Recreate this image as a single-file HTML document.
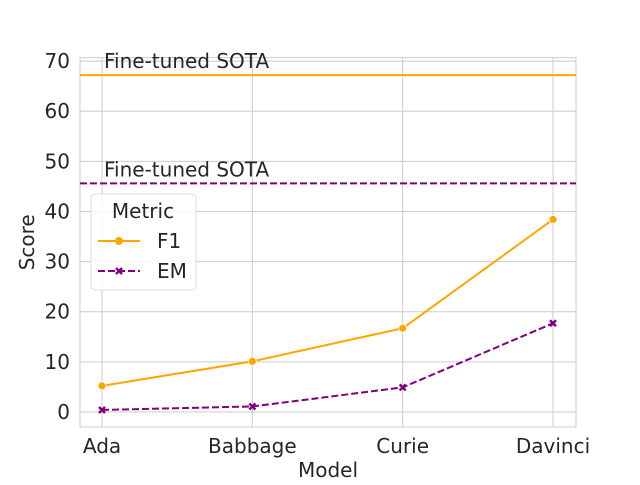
<!DOCTYPE html>
<html><head><meta charset="utf-8"><style>
body{margin:0;background:#fff;width:640px;height:480px;overflow:hidden}
svg text{font-family:"DejaVu Sans","Liberation Sans",sans-serif;fill:#262626}
</style></head><body>
<svg id="chart" width="640" height="480"></svg>
<script>
const categories=["Ada","Babbage","Curie","Davinci"];
const f1Values=[5.2,10.1,16.7,38.4];
const emValues=[0.4,1.1,4.9,17.7];
const sotaF1=67.2;
const sotaEM=45.6;
const yTicks=[0,10,20,30,40,50,60,70];
const L=80,R=576,T=57.6,B=427,ymin=-3,ymax=70.7;
const NS="http://www.w3.org/2000/svg";
const svg=document.getElementById("chart");
function xs(i){return 102+i*(553-102)/(categories.length-1);}
function ys(v){return B-(v-ymin)/(ymax-ymin)*(B-T);}
function mk(tag,attrs,parent){const e=document.createElementNS(NS,tag);for(const k in attrs)e.setAttribute(k,attrs[k]);(parent||svg).appendChild(e);return e;}
const bg=mk("rect",{x:L,y:T,width:R-L,height:B-T,fill:"#fff",stroke:"#ccc","stroke-width":1});


yTicks.forEach(v=>{
  const g=mk("line",{x1:L,x2:R,y1:ys(v),y2:ys(v),stroke:"#ccc","stroke-width":1});
  
  
  const t=mk("text",{x:L-10,y:ys(v)+7,"text-anchor":"end","font-size":20});
  t.textContent=v;
  
  
});
categories.forEach((c,i)=>{
  const g=mk("line",{x1:xs(i),x2:xs(i),y1:T,y2:B,stroke:"#ccc","stroke-width":1});
  
  
  const t=mk("text",{x:xs(i),y:453,"text-anchor":"middle","font-size":20});
  t.textContent=c;
  
  
});
const h1=mk("line",{x1:L,x2:R,y1:ys(sotaF1),y2:ys(sotaF1),stroke:"orange","stroke-width":2});


const h2=mk("line",{x1:L,x2:R,y1:ys(sotaEM),y2:ys(sotaEM),stroke:"purple","stroke-width":2,"stroke-dasharray":"7,3"});


[[sotaF1,"sota-f1-label"],[sotaEM,"sota-em-label"]].forEach(([v,n])=>{
  const t=mk("text",{x:104,y:ys(v)-7,"font-size":20});
  t.textContent="Fine-tuned SOTA";
  
  
});
const p1=mk("polyline",{points:f1Values.map((v,i)=>xs(i)+","+ys(v)).join(" "),fill:"none",stroke:"orange","stroke-width":2});


const p2=mk("polyline",{points:emValues.map((v,i)=>xs(i)+","+ys(v)).join(" "),fill:"none",stroke:"purple","stroke-width":2,"stroke-dasharray":"7,3"});


f1Values.forEach((v,i)=>{
  const c=mk("circle",{cx:xs(i),cy:ys(v),r:4,fill:"orange",stroke:"#fff","stroke-width":0.8});
  
  
});
emValues.forEach((v,i)=>{
  const x=xs(i),y=ys(v);
  const c=mk("path",{d:`M${x-3},${y-3}L${x+3},${y+3}M${x+3},${y-3}L${x-3},${y+3}`,stroke:"purple","stroke-width":2.5});
  
  
});
const yt=mk("text",{x:0,y:0,"font-size":20,"text-anchor":"middle",transform:`translate(34,${(T+B)/2}) rotate(-90)`});
yt.textContent="Score";


const xt=mk("text",{x:(L+R)/2,y:477,"font-size":20,"text-anchor":"middle"});
xt.textContent="Model";


const lg=mk("g",{});


mk("rect",{x:91,y:194,width:105,height:96,rx:4,fill:"#fff","fill-opacity":0.85,stroke:"#ddd"},lg);
const lt=mk("text",{x:143,y:218,"font-size":20,"text-anchor":"middle"},lg);
lt.textContent="Metric";
mk("line",{x1:98,x2:140,y1:241,y2:241,stroke:"orange","stroke-width":2},lg);
mk("circle",{cx:119,cy:241,r:4,fill:"orange"},lg);
const l1=mk("text",{x:157,y:248,"font-size":20},lg);l1.textContent="F1";


mk("line",{x1:98,x2:140,y1:271,y2:271,stroke:"purple","stroke-width":2,"stroke-dasharray":"7,3"},lg);
mk("path",{d:"M116,268L122,274M122,268L116,274",stroke:"purple","stroke-width":2.5},lg);
const l2=mk("text",{x:157,y:278,"font-size":20},lg);l2.textContent="EM";


</script>
</body></html>
